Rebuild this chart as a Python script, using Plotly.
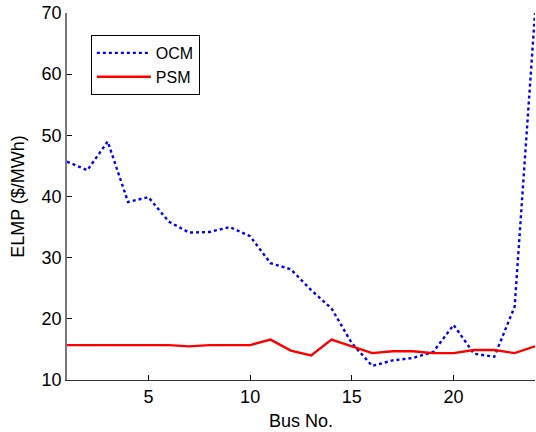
import plotly.graph_objects as go

bus = list(range(1, 25))
ocm = [45.7, 44.3, 49.0, 39.1, 39.9, 35.9, 34.1, 34.2, 35.0, 33.5, 29.1, 28.1,
       24.7, 21.7, 16.0, 12.3, 13.2, 13.6, 14.6, 19.0, 14.3, 13.8, 22.0, 70.0]
psm = [15.7, 15.7, 15.7, 15.7, 15.7, 15.7, 15.5, 15.7, 15.7, 15.7, 16.6, 14.8,
       14.0, 16.6, 15.5, 14.4, 14.7, 14.7, 14.4, 14.4, 14.9, 14.9, 14.4, 15.5]
x_ticks = [5, 10, 15, 20]
y_ticks = [10, 20, 30, 40, 50, 60, 70]

fig = go.Figure()
fig.add_trace(go.Scatter(x=bus, y=ocm, mode="lines", name="OCM", cliponaxis=False,
                         line=dict(color="#0000ff", width=2.4, dash="dot")))
fig.add_trace(go.Scatter(x=bus, y=psm, mode="lines", name="PSM", cliponaxis=False,
                         line=dict(color="#ff0000", width=2.4)))

font = "Liberation Sans, Arial, sans-serif"
fig.update_layout(
    width=536, height=432,
    margin=dict(l=67, r=1, t=13, b=52, autoexpand=False),
    paper_bgcolor="white", plot_bgcolor="white",
    font=dict(family=font, size=18, color="black"),
    showlegend=True,
    legend=dict(x=0.051, y=0.94, xanchor="left", yanchor="top",
                bordercolor="black", borderwidth=1, bgcolor="white",
                font=dict(size=16), itemwidth=54, tracegroupgap=0),
    xaxis=dict(range=[1, 24], tickvals=x_ticks, ticks="inside", ticklen=5,
               tickcolor="black", showline=True, linecolor="#333333", linewidth=1,
               showgrid=False, zeroline=False, tickfont=dict(size=18), automargin=False,
               title=dict(text="Bus No.", font=dict(size=18), standoff=8)),
    yaxis=dict(range=[10, 70], tickvals=y_ticks, ticks="inside", ticklen=5,
               tickcolor="black", showline=True, linecolor="#777777", linewidth=1.5,
               showgrid=False, zeroline=False, tickfont=dict(size=18), automargin=False,
               title=dict(text="ELMP ($/MWh)", font=dict(size=18), standoff=12)),
)
fig.write_html("out.html", config={"displayModeBar": False},
               post_script="document.body.style.margin='0';document.body.style.overflow='hidden';")
